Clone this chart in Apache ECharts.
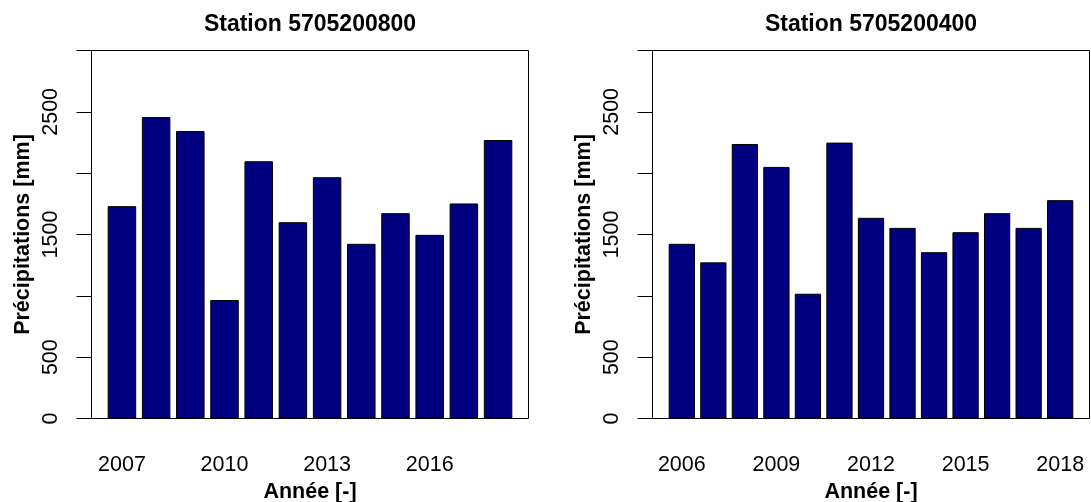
<!DOCTYPE html>
<html>
<head>
<meta charset="utf-8">
<title>Précipitations annuelles</title>
<script src="https://cdn.jsdelivr.net/npm/echarts@6/dist/echarts.min.js"></script>
<style>
  html, body { margin: 0; padding: 0; background: #fff; }
  #chart { width: 1091px; height: 502px; }
</style>
</head>
<body>
<div id="chart"></div>
<script>
// Annual precipitation, two stations
const stationA = 'Station 5705200800';
const yearsA = ['2007', '2008', '2009', '2010', '2011', '2012', '2013', '2014', '2015', '2016', '2017', '2018'];
const precipA = [1731, 2457, 2343, 966, 2097, 1600, 1967, 1424, 1674, 1497, 1753, 2270];

const stationB = 'Station 5705200400';
const yearsB = ['2006', '2007', '2008', '2009', '2010', '2011', '2012', '2013', '2014', '2015', '2016', '2017', '2018'];
const precipB = [1424, 1273, 2238, 2051, 1017, 2249, 1636, 1554, 1356, 1519, 1674, 1554, 1780];

// y axis: ticks every 500, only these values get a label
const yMax = 3000;
const yStep = 500;
const yTickLabels = [0, 500, 1500, 2500];

const yName = 'Précipitations [mm]';
const xName = 'Année [-]';

const FONT = '"Liberation Sans", Arial, Helvetica, sans-serif';
const INK = '#000';
const NAVY = '#000080';

// plot frames (pixel boxes)
const frameTop = 50.5;
const frameHeight = 368;
const frames = [
  { left: 91.5, width: 437 },
  { left: 652.5, width: 437 }
];

// bar band placed like a classic barplot: bar width 1, space 0.2, 4% padding on the x range
function barBand(frame, n) {
  const span = 1.2 * n - 0.2;
  const unit = frame.width / (span * 1.08);
  const firstLeft = frame.left + 0.04 * span * unit;
  return { left: firstLeft - 0.1 * unit, width: 1.2 * n * unit };
}

const bandA = barBand(frames[0], yearsA.length);
const bandB = barBand(frames[1], yearsB.length);

function frameGrid(f) {
  return {
    left: f.left, top: frameTop, width: f.width, height: frameHeight,
    show: true, borderColor: INK, borderWidth: 1, backgroundColor: 'transparent',
    containLabel: false, outerBoundsMode: 'none'
  };
}
function bandGrid(b) {
  return {
    left: b.left, top: frameTop, width: b.width, height: frameHeight,
    containLabel: false, outerBoundsMode: 'none'
  };
}

function frameYAxis(gridIndex) {
  return {
    gridIndex, type: 'value', min: 0, max: yMax, interval: yStep,
    name: yName, nameLocation: 'middle', nameGap: 57,
    nameTextStyle: { fontFamily: FONT, fontSize: 21.5, fontWeight: 'bold', color: INK },
    axisLine: { show: true, lineStyle: { color: INK, width: 1 } },
    axisTick: { show: true, length: 15, inside: false, lineStyle: { color: INK, width: 1 } },
    axisLabel: {
      show: true, rotate: 90, margin: 29,
      fontFamily: FONT, fontSize: 21.5, color: INK,
      formatter: v => (yTickLabels.indexOf(v) >= 0 ? String(v) : '')
    },
    splitLine: { show: false }
  };
}
function bandYAxis(gridIndex) {
  return { gridIndex, type: 'value', min: 0, max: yMax, show: false };
}
function frameXAxis(gridIndex) {
  return { gridIndex, type: 'value', min: 0, max: 1, show: false };
}
function bandXAxis(gridIndex, years) {
  return {
    gridIndex, type: 'category', data: years, boundaryGap: true,
    name: xName, nameLocation: 'middle', nameGap: 63,
    nameTextStyle: { fontFamily: FONT, fontSize: 21.5, fontWeight: 'bold', color: INK },
    axisLine: { show: false }, axisTick: { show: false },
    axisLabel: { interval: 2, margin: 36, fontFamily: FONT, fontSize: 21.5, color: INK },
    splitLine: { show: false }
  };
}
function barSeries(axisIndex, values) {
  return {
    type: 'bar', xAxisIndex: axisIndex, yAxisIndex: axisIndex, data: values,
    barWidth: '83.33%',
    itemStyle: { color: NAVY, borderColor: INK, borderWidth: 1 },
    emphasis: { disabled: true }, silent: true, animation: false
  };
}

const chart = echarts.init(document.getElementById('chart'), null, { renderer: 'canvas' });
chart.setOption({
  backgroundColor: '#fff',
  animation: false,
  title: [
    { text: stationA, left: frames[0].left + frames[0].width / 2, top: 13, textAlign: 'center', padding: 0,
      textStyle: { fontFamily: FONT, fontSize: 23, fontWeight: 'bold', color: INK } },
    { text: stationB, left: frames[1].left + frames[1].width / 2, top: 13, textAlign: 'center', padding: 0,
      textStyle: { fontFamily: FONT, fontSize: 23, fontWeight: 'bold', color: INK } }
  ],
  grid: [frameGrid(frames[0]), bandGrid(bandA), frameGrid(frames[1]), bandGrid(bandB)],
  xAxis: [frameXAxis(0), bandXAxis(1, yearsA), frameXAxis(2), bandXAxis(3, yearsB)],
  yAxis: [frameYAxis(0), bandYAxis(1), frameYAxis(2), bandYAxis(3)],
  series: [barSeries(1, precipA), barSeries(3, precipB)]
});
</script>
</body>
</html>
